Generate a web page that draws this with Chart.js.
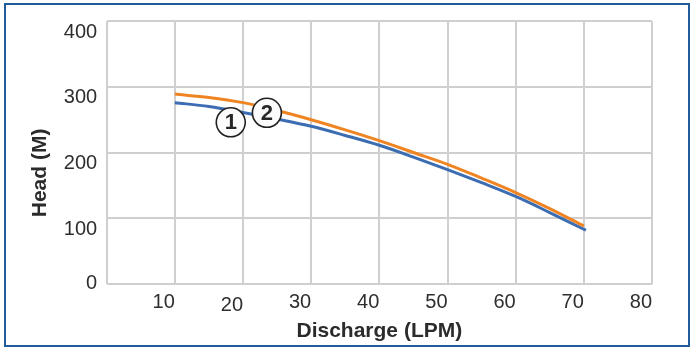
<!DOCTYPE html>
<html>
<head>
<meta charset="utf-8">
<script src="https://cdn.jsdelivr.net/npm/chart.js@4/dist/chart.umd.min.js"></script>
<style>
  body { margin: 0; background: #fff; }
  #wrap { position: relative; width: 691px; height: 348px; }
  #frame { position: absolute; left: 4px; top: 3px; width: 682px; height: 340px; border: 2px solid #1f5c99; pointer-events: none; }
</style>
</head>
<body>
<div id="wrap">
  <canvas id="pumpChart" width="691" height="348"></canvas>
  <div id="frame"></div>
</div>
<script>
// discharge (LPM) and head (M)
var discharge1 = [10, 15, 20, 25, 30, 35, 40, 45, 50, 55, 60, 65, 70, 70.3];
var head1 = [276, 270, 261, 251, 240, 226, 211, 193, 174, 154, 133, 108.5, 83, 81.5];
var discharge2 = [10, 15, 20, 25, 30, 35, 40, 45, 50, 55, 60, 65, 70];
var head2 = [289, 284, 276, 264, 250, 234.5, 218, 200, 182, 161, 139, 114.5, 88];

// numbered curve markers
var markerText = ['1', '2'];
var markerX = [18.2, 23.5];
var markerY = [246, 260.5];

var FONT = '"Liberation Sans", Arial, Helvetica, sans-serif';

function toPoints(xs, ys) {
    return xs.map(function (x, i) { return { x: x, y: ys[i] }; });
}

var curveLabels = {
    id: 'curveLabels',
    afterDatasetsDraw: function (chart) {
        var ctx = chart.ctx;
        var xs = chart.scales.x, ys = chart.scales.y;
        ctx.save();
        for (var i = 0; i < markerText.length; i++) {
            var cx = xs.getPixelForValue(markerX[i]);
            var cy = ys.getPixelForValue(markerY[i]);
            ctx.beginPath();
            ctx.arc(cx, cy, 14.5, 0, Math.PI * 2);
            ctx.fillStyle = '#fbfbfb';
            ctx.fill();
            ctx.lineWidth = 1.6;
            ctx.strokeStyle = '#222';
            ctx.stroke();
            ctx.fillStyle = '#262626';
            ctx.font = 'bold 22px ' + FONT;
            ctx.textAlign = 'center';
            ctx.textBaseline = 'middle';
            ctx.fillText(markerText[i], cx, cy + 1);
        }
        ctx.restore();
    }
};

var ctx = document.getElementById('pumpChart').getContext('2d');
var pumpChart = new Chart(ctx, {
    type: 'line',
    data: {
        datasets: [{
            label: '2',
            data: toPoints(discharge2, head2),
            borderColor: '#ef8423',
            borderWidth: 3,
            pointRadius: 0,
            cubicInterpolationMode: 'monotone',
            order: 0
        }, {
            label: '1',
            data: toPoints(discharge1, head1),
            borderColor: '#3c6db2',
            borderWidth: 3,
            pointRadius: 0,
            cubicInterpolationMode: 'monotone',
            order: 1
        }]
    },
    options: {
        responsive: false,
        animation: false,
        devicePixelRatio: 1,
        layout: { padding: { left: 0, top: 21.3, right: 39, bottom: 0 } },
        plugins: { legend: { display: false }, tooltip: { enabled: false } },
        scales: {
            x: {
                type: 'linear',
                min: 0,
                max: 80,
                border: { display: false },
                grid: { color: '#cfcfcf', lineWidth: 2, drawTicks: false },
                ticks: {
                    stepSize: 10,
                    align: 'end',
                    padding: 6.5,
                    color: '#2e2e2e',
                    font: function (c) {
                        return { family: FONT, size: 20, lineHeight: c.tick && c.tick.value === 20 ? '31px' : '24px' };
                    },
                    callback: function (v) { return v === 0 ? '' : v; }
                },
                title: {
                    display: true,
                    text: 'Discharge (LPM)',
                    color: '#2b2b2b',
                    font: { family: FONT, size: 21, weight: 'bold' },
                    padding: { top: 0, bottom: 4.2 }
                },
                afterFit: function (s) { s.height = 64.3; s.paddingLeft = 0; s.paddingRight = 0; }
            },
            y: {
                min: 0,
                max: 400,
                border: { display: false },
                grid: { color: '#cfcfcf', lineWidth: 2, drawTicks: false },
                ticks: {
                    stepSize: 100,
                    padding: 9.5,
                    color: '#2e2e2e',
                    font: { family: FONT, size: 20, lineHeight: '22px' },
                    callback: function (v) { return v === 0 ? '0' : ['', String(v)]; }
                },
                title: {
                    display: true,
                    text: 'Head (M)       ',
                    color: '#2b2b2b',
                    font: { family: FONT, size: 21, weight: 'bold' },
                    padding: { top: 28, bottom: 0 }
                },
                afterFit: function (s) { s.width = 106.7; s.paddingTop = 0; s.paddingBottom = 0; }
            }
        }
    },
    plugins: [curveLabels]
});
</script>
</body>
</html>
